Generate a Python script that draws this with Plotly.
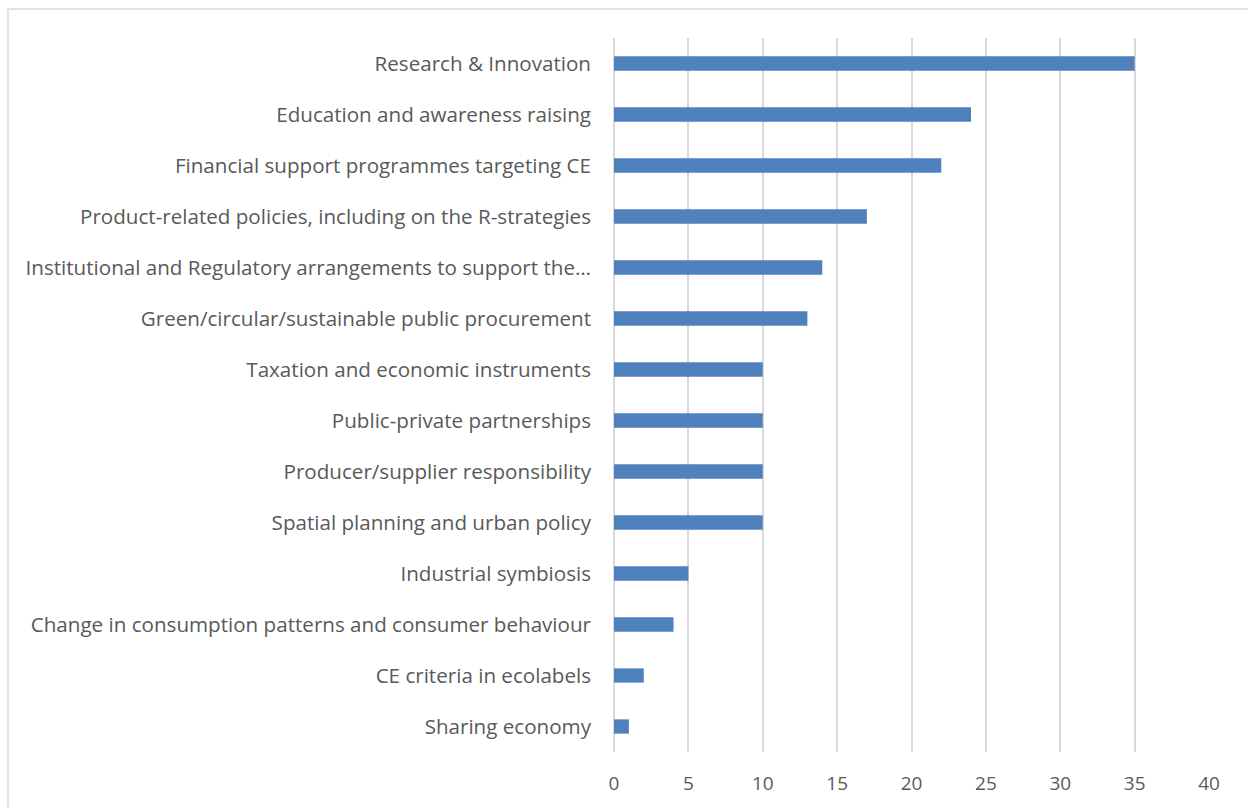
import plotly.graph_objects as go

categories = [
    "Research & Innovation",
    "Education and awareness raising",
    "Financial support programmes targeting CE",
    "Product-related policies, including on the R-strategies",
    "Institutional and Regulatory arrangements to support the…",
    "Green/circular/sustainable public procurement",
    "Taxation and economic instruments",
    "Public-private partnerships",
    "Producer/supplier responsibility",
    "Spatial planning and urban policy",
    "Industrial symbiosis",
    "Change in consumption patterns and consumer behaviour",
    "CE criteria in ecolabels",
    "Sharing economy",
]
values = [35, 24, 22, 17, 14, 13, 10, 10, 10, 10, 5, 4, 2, 1]
x_ticks = [0, 5, 10, 15, 20, 25, 30, 35, 40]

W, H = 1248, 807
L, R, T, B = 614, 39, 38, 55

fig = go.Figure(go.Bar(
    y=categories, x=values, orientation="h",
    marker=dict(color="#4f81bd", line=dict(width=0)),
    width=0.28,
))

def px_to_paper_x(px):
    return (px - L) / (W - L - R)

def px_to_paper_y(py):
    return 1 - (py - T) / (H - T - B)

fig.update_layout(
    width=W, height=H,
    margin=dict(l=L, r=R, t=T, b=B, autoexpand=False),
    paper_bgcolor="white", plot_bgcolor="white",
    font=dict(family="Open Sans", size=20, color="#595959"),
    showlegend=False,
    shapes=[dict(type="rect", xref="paper", yref="paper",
                 x0=px_to_paper_x(8), x1=px_to_paper_x(1300),
                 y0=px_to_paper_y(900), y1=px_to_paper_y(9),
                 line=dict(color="#d9d9d9", width=1.5), layer="below")],
)
fig.update_xaxes(
    range=[0, 40], tickvals=x_ticks, showgrid=True, gridcolor="#d9d9d9",
    gridwidth=1.5, zeroline=True, zerolinecolor="#d9d9d9", zerolinewidth=1.5,
    showline=False, ticks="", ticklabelstandoff=18,
    tickfont=dict(size=19, color="#595959"),
)
fig.update_yaxes(
    categoryorder="array", categoryarray=categories[::-1],
    autorange=False, range=[-0.5, len(categories) - 0.5],
    showgrid=False, showline=False, ticks="", ticklabelstandoff=22,
    tickfont=dict(size=20.6, color="#595959"),
)
fig.write_html("out.html")
